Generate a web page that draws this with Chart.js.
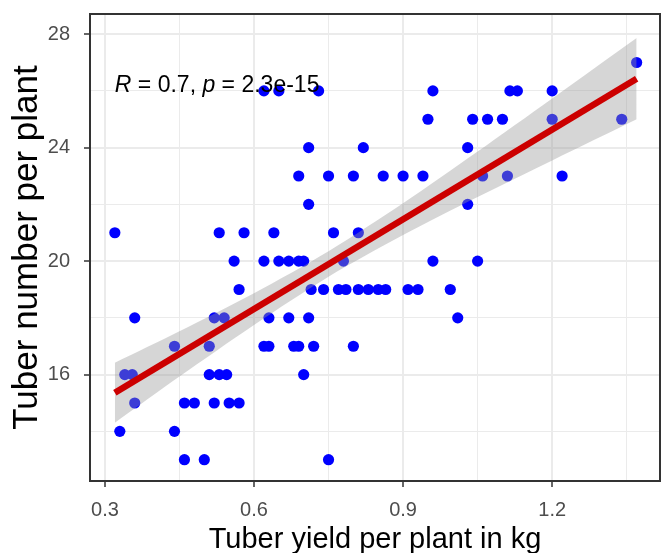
<!DOCTYPE html>
<html>
<head>
<meta charset="utf-8">
<script src="https://cdn.jsdelivr.net/npm/chart.js@4.4.1/dist/chart.umd.min.js"></script>
<style>
  html, body { margin: 0; padding: 0; background: #fff; }
</style>
</head>
<body>
<canvas id="tuberChart" width="667" height="553"></canvas>
<script>
// scatter values (x = yield kg, y = tuber count)
const yieldKg = [
  1.37,
  0.62, 0.65, 0.73, 0.96, 1.115, 1.13, 1.20,
  0.95, 1.04, 1.07, 1.10, 1.20, 1.34,
  0.71, 0.82, 1.03,
  0.69, 0.75, 0.80, 0.86, 0.90, 0.94, 1.06, 1.11, 1.22,
  0.71, 1.03,
  0.32, 0.53, 0.58, 0.64, 0.76, 0.81,
  0.56, 0.62, 0.65, 0.67, 0.69, 0.70, 0.78, 0.96, 1.05,
  0.57, 0.715, 0.74, 0.77, 0.785, 0.81, 0.83, 0.85, 0.865, 0.91, 0.93, 0.995,
  0.36, 0.52, 0.54, 0.63, 0.67, 0.71, 1.01,
  0.44, 0.51, 0.62, 0.63, 0.68, 0.69, 0.72, 0.80,
  0.34, 0.355, 0.51, 0.53, 0.545, 0.70,
  0.36, 0.46, 0.48, 0.52, 0.55, 0.57,
  0.33, 0.44,
  0.46, 0.50, 0.75
];
const tuberNum = [
  27,
  26, 26, 26, 26, 26, 26, 26,
  25, 25, 25, 25, 25, 25,
  24, 24, 24,
  23, 23, 23, 23, 23, 23, 23, 23, 23,
  22, 22,
  21, 21, 21, 21, 21, 21,
  20, 20, 20, 20, 20, 20, 20, 20, 20,
  19, 19, 19, 19, 19, 19, 19, 19, 19, 19, 19, 19,
  18, 18, 18, 18, 18, 18, 18,
  17, 17, 17, 17, 17, 17, 17, 17,
  16, 16, 16, 16, 16, 16,
  15, 15, 15, 15, 15, 15,
  14, 14,
  13, 13, 13
];

// fitted line and its confidence band
const fitX = [0.32, 1.37];
const fitY = [15.36, 26.43];
const bandX = [0.32, 0.45, 0.6, 0.75, 0.9, 1.05, 1.2, 1.37];
const bandLow = [14.30, 15.93, 17.75, 19.45, 20.92, 22.26, 23.55, 25.00];
const bandHigh = [16.42, 17.53, 18.87, 20.35, 22.04, 23.86, 25.73, 27.86];

const xTicks = [0.3, 0.6, 0.9, 1.2];
const xMinor = [0.45, 0.75, 1.05, 1.35];
const yTicks = [16, 20, 24, 28];
const yMinor = [14, 18, 22, 26];

const corR = '0.7';
const corP = '2.3e-15';

const FONT = "'Liberation Sans', Arial, sans-serif";

const isIn = (arr, v) => arr.some(t => Math.abs(t - v) < 1e-9);
const allTicks = (major, minor) => major.concat(minor).sort((a, b) => a - b).map(v => ({ value: v }));

const panelBorder = {
  id: 'panelBorder',
  afterDraw(chart) {
    const { ctx, chartArea: a } = chart;
    ctx.save();
    ctx.strokeStyle = '#333333';
    ctx.lineWidth = 2;
    ctx.strokeRect(a.left, a.top, a.right - a.left, a.bottom - a.top);
    ctx.restore();
  }
};

// R / p label, italic letters like ggpubr
const corLabel = {
  id: 'corLabel',
  afterDatasetsDraw(chart) {
    const { ctx, scales } = chart;
    let x = scales.x.getPixelForValue(0.32);
    const y = scales.y.getPixelForValue(26.2);
    const parts = [['R', true], [' = ' + corR + ', ', false], ['p', true], [' = ' + corP, false]];
    ctx.save();
    ctx.fillStyle = '#000';
    ctx.textBaseline = 'middle';
    parts.forEach(([txt, it]) => {
      ctx.font = (it ? 'italic ' : '') + '23px ' + FONT;
      ctx.fillText(txt, x, y);
      x += ctx.measureText(txt).width;
    });
    ctx.restore();
  }
};

const points = yieldKg.map((v, i) => ({ x: v, y: tuberNum[i] }));

const ctx = document.getElementById('tuberChart').getContext('2d');
new Chart(ctx, {
  type: 'scatter',
  data: {
    datasets: [{
      label: 'plants',
      data: points,
      backgroundColor: '#0000ff',
      borderWidth: 0,
      pointRadius: 5.6,
      order: 3
    }, {
      type: 'line',
      label: 'lower',
      data: bandX.map((v, i) => ({ x: v, y: bandLow[i] })),
      borderWidth: 0,
      pointRadius: 0,
      tension: 0.3,
      fill: false,
      order: 2
    }, {
      type: 'line',
      label: 'upper',
      data: bandX.map((v, i) => ({ x: v, y: bandHigh[i] })),
      borderWidth: 0,
      pointRadius: 0,
      tension: 0.3,
      backgroundColor: 'rgba(153,153,153,0.4)',
      fill: '-1',
      order: 2
    }, {
      type: 'line',
      label: 'fit',
      data: fitX.map((v, i) => ({ x: v, y: fitY[i] })),
      borderColor: '#cc0000',
      borderWidth: 6.5,
      pointRadius: 0,
      fill: false,
      order: 1
    }]
  },
  options: {
    responsive: false,
    animation: false,
    layout: { padding: { top: 14, right: 7, left: 0, bottom: 0 } },
    plugins: {
      legend: { display: false },
      tooltip: { enabled: false }
    },
    scales: {
      x: {
        type: 'linear',
        min: 0.27,
        max: 1.417,
        afterBuildTicks: s => { s.ticks = allTicks(xTicks, xMinor); },
        afterFit: s => { s.height = 72; s.paddingLeft = 0; s.paddingRight = 0; },
        border: { display: false },
        grid: {
          color: '#ebebeb',
          lineWidth: c => isIn(xTicks, c.tick.value) ? 2 : 1,
          tickColor: c => isIn(xTicks, c.tick.value) ? '#333333' : 'rgba(0,0,0,0)',
          tickWidth: 1.5,
          tickLength: 6
        },
        ticks: {
          autoSkip: false,
          maxRotation: 0,
          padding: 11,
          color: '#4d4d4d',
          font: { size: 20, family: FONT },
          callback: v => isIn(xTicks, v) ? v.toFixed(1) : ''
        },
        title: {
          display: true,
          text: 'Tuber yield per plant in kg',
          color: '#000',
          font: { size: 29, family: FONT, lineHeight: 1 },
          padding: { top: 0, bottom: -1 }
        }
      },
      y: {
        type: 'linear',
        min: 12.25,
        max: 28.71,
        afterBuildTicks: s => { s.ticks = allTicks(yTicks, yMinor); },
        afterFit: s => { s.width = 90; s.paddingTop = 0; s.paddingBottom = 0; },
        border: { display: false },
        grid: {
          color: '#ebebeb',
          lineWidth: c => isIn(yTicks, c.tick.value) ? 2 : 1,
          tickColor: c => isIn(yTicks, c.tick.value) ? '#333333' : 'rgba(0,0,0,0)',
          tickWidth: 1.5,
          tickLength: 6
        },
        ticks: {
          autoSkip: false,
          padding: 14,
          color: '#4d4d4d',
          font: { size: 20, family: FONT },
          callback: v => isIn(yTicks, v) ? String(v) : ''
        },
        title: {
          display: true,
          text: 'Tuber number per plant',
          color: '#000',
          font: { size: 35, family: FONT, lineHeight: 1 },
          padding: { top: 10, bottom: 0 }
        }
      }
    }
  },
  plugins: [panelBorder, corLabel]
});
</script>
</body>
</html>
